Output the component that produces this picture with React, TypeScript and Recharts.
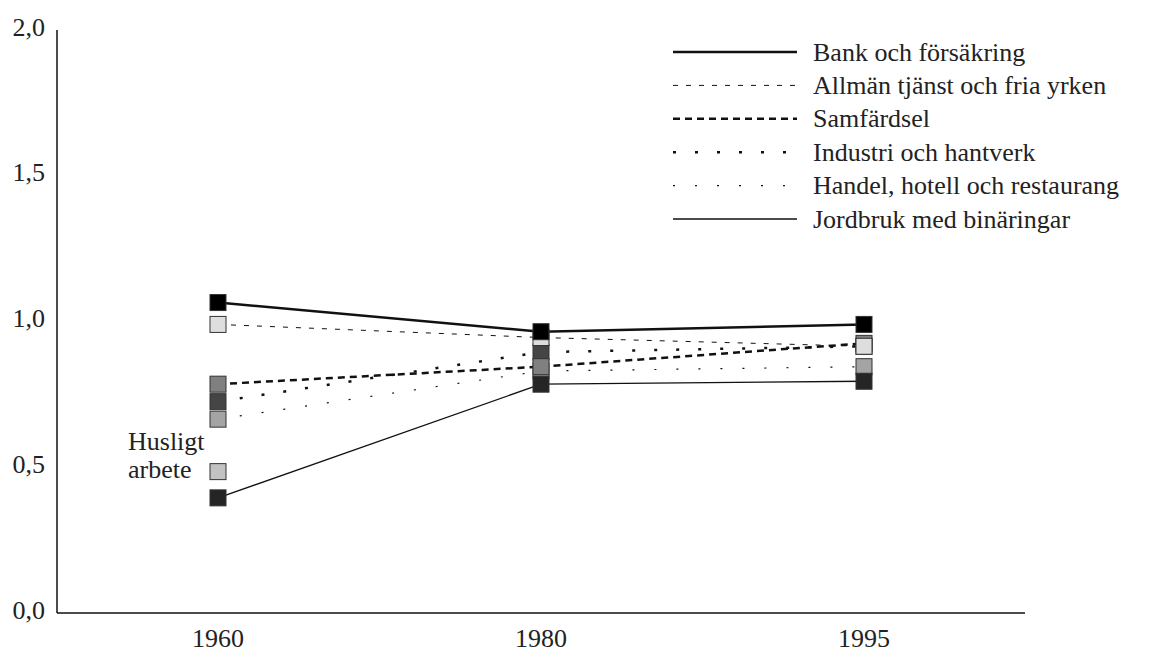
import React from "react"
import { LineChart, Line, XAxis, YAxis } from "recharts"

const years = ["1960", "1980", "1995"]
const bank = [1.065, 0.965, 0.99]
const allman = [0.99, 0.945, 0.915]
const samfardsel = [0.785, 0.845, 0.925]
const industri = [0.725, 0.895, 0.915]
const handel = [0.665, 0.83, 0.845]
const jordbruk = [0.395, 0.785, 0.795]
const husligt = [0.485, null, null]
const yTicks = [0, 0.5, 1, 1.5, 2]

const FONT = "Liberation Serif, Times New Roman, DejaVu Serif, serif"
const TEXT = "#222"
const textStyle = { fontFamily: FONT, fontSize: 26 }

interface Series {
  key: string
  name: string
  values: Array<number | null>
  fill: string
  width: number
  dash?: string
}

// drawing order (later ones sit on top of earlier markers)
const series: Series[] = [
  { key: "handel", name: "Handel, hotell och restaurang", values: handel, fill: "#a4a4a4", width: 1.2, dash: "2 20" },
  { key: "industri", name: "Industri och hantverk", values: industri, fill: "#454545", width: 2.5, dash: "3 19" },
  { key: "samfardsel", name: "Samfärdsel", values: samfardsel, fill: "#808080", width: 2.5, dash: "7 5" },
  { key: "allman", name: "Allmän tjänst och fria yrken", values: allman, fill: "#dedede", width: 1, dash: "5 8" },
  { key: "jordbruk", name: "Jordbruk med binäringar", values: jordbruk, fill: "#252525", width: 1.3 },
  { key: "husligt", name: "Husligt arbete", values: husligt, fill: "#c2c2c2", width: 0 },
  { key: "bank", name: "Bank och försäkring", values: bank, fill: "#000000", width: 2.5 },
]

const legendOrder = ["bank", "allman", "samfardsel", "industri", "handel", "jordbruk"]

const data = years.map((year, i) => {
  const row: any = { year }
  series.forEach((s) => {
    row[s.key] = s.values[i]
  })
  return row
})

const squareDot = (fill: string) => (props: any) => {
  const { cx, cy, value, index } = props
  if (cx == null || cy == null || value == null) return <g key={`e-${index}`} />
  return (
    <rect
      key={`d-${index}`}
      x={cx - 8}
      y={cy - 8}
      width={16}
      height={16}
      fill={fill}
      stroke="#333"
      strokeWidth={1}
    />
  )
}

const YTick = ({ x, y, payload }: any) => (
  <text x={x} y={y - 3} textAnchor="end" dominantBaseline="central" style={textStyle} fill={TEXT}>
    {Number(payload.value).toFixed(1).replace(".", ",")}
  </text>
)

const XTick = ({ x, y, payload }: any) => (
  <text x={x} y={y} textAnchor="middle" dominantBaseline="central" style={textStyle} fill={TEXT}>
    {payload.value}
  </text>
)

const HusligtLabel = (props: any) => {
  const { x, y, value, index } = props
  if (value == null || x == null) return <g key={`l-${index}`} />
  return (
    <text key={`l-${index}`} x={x - 90} y={y} style={textStyle} fill={TEXT}>
      <tspan x={x - 90} dy={-22}>Husligt</tspan>
      <tspan x={x - 90} dy={28}>arbete</tspan>
    </text>
  )
}

function LegendBox() {
  const rows = legendOrder.map((k) => series.find((s) => s.key === k)!)
  return (
    <svg width={489} height={220} style={{ position: "absolute", left: 660, top: 30 }}>
      {rows.map((s, i) => {
        const cy = 22 + i * 33.4
        return (
          <g key={s.key}>
            <line
              x1={13}
              x2={137}
              y1={cy}
              y2={cy}
              stroke="#111"
              strokeWidth={s.width}
              strokeDasharray={s.dash}
            />
            <text x={153} y={cy} dominantBaseline="central" style={textStyle} fill={TEXT}>
              {s.name}
            </text>
          </g>
        )
      })}
    </svg>
  )
}

export default function App() {
  return (
    <div style={{ position: "absolute", left: 0, top: 0, width: 1149, height: 653, background: "#fff" }}>
      <LineChart
        width={1149}
        height={653}
        data={data}
        margin={{ top: 30, right: 124, bottom: 0, left: 0 }}
      >
        <XAxis
          dataKey="year"
          height={40}
          padding={{ left: 161, right: 161 }}
          tickLine={false}
          tickSize={0}
          tickMargin={25}
          tick={<XTick />}
          stroke="#111"
          strokeWidth={1.5}
        />
        <YAxis
          width={57}
          domain={[0, 2]}
          ticks={yTicks}
          tickLine={false}
          tickSize={0}
          tickMargin={12}
          tick={<YTick />}
          stroke="#111"
          strokeWidth={1.5}
        />
        {series.map((s) => (
          <Line
            key={s.key}
            dataKey={s.key}
            name={s.name}
            type="linear"
            stroke={s.width > 0 ? "#111" : "none"}
            strokeWidth={s.width}
            strokeDasharray={s.dash}
            dot={squareDot(s.fill)}
            activeDot={false}
            isAnimationActive={false}
            label={s.key === "husligt" ? <HusligtLabel /> : undefined}
          />
        ))}
      </LineChart>
      <LegendBox />
    </div>
  )
}
